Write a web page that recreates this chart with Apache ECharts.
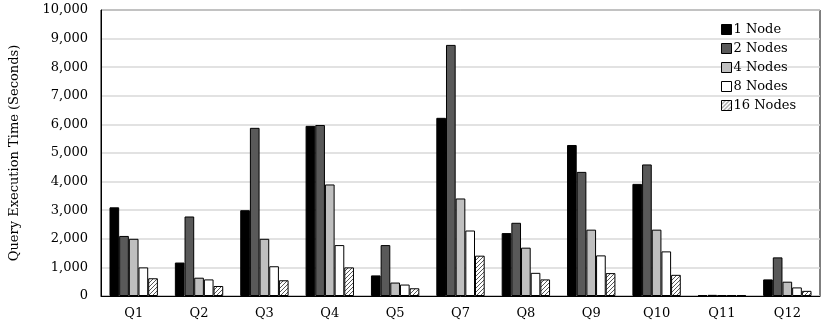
<!DOCTYPE html>
<html><head><meta charset="utf-8">
<script src="https://cdn.jsdelivr.net/npm/echarts@6/dist/echarts.min.js"></script>
<style>html,body{margin:0;padding:0;background:#fff}#c{width:831px;height:326px}</style>
</head><body><div id="c"></div>
<script>
var categories = ['Q1','Q2','Q3','Q4','Q5','Q7','Q8','Q9','Q10','Q11','Q12'];
var seriesNames = ['1 Node','2 Nodes','4 Nodes','8 Nodes','16 Nodes'];
var node1  = [3100, 1170, 3000, 5950, 720, 6230, 2200, 5280, 3920, 30, 580];
var node2  = [2100, 2780, 5880, 5980, 1780, 8780, 2560, 4340, 4600, 40, 1350];
var node4  = [2000, 640, 2000, 3900, 470, 3410, 1690, 2320, 2320, 30, 500];
var node8  = [1000, 580, 1040, 1780, 400, 2290, 810, 1420, 1560, 30, 300];
var node16 = [620, 350, 550, 1000, 270, 1410, 580, 800, 740, 30, 180];
var yTicks = [0,1000,2000,3000,4000,5000,6000,7000,8000,9000,10000];

function hatch(){
  var s = 4;
  var c = document.createElement('canvas'); c.width = s; c.height = s;
  var g = c.getContext('2d');
  g.fillStyle = '#fff'; g.fillRect(0,0,s,s);
  g.strokeStyle = '#444'; g.lineWidth = 0.9;
  g.beginPath(); g.moveTo(0,s); g.lineTo(s,0); g.moveTo(-1,1); g.lineTo(1,-1); g.moveTo(s-1,s+1); g.lineTo(s+1,s-1); g.stroke();
  return c;
}
var fills = ['#000000','#595959','#bfbfbf','#ffffff',{image: hatch(), repeat: 'repeat'}];
var data = [node1,node2,node4,node8,node16];
var font = '"DejaVu Serif", "Liberation Serif", serif';

var chart = echarts.init(document.getElementById('c'));
chart.setOption({
  animation: false,
  textStyle: {fontFamily: font},
  grid: {left: 99, right: 11, top: 10, bottom: 30, show: true, borderColor: '#000', borderWidth: 1},
  legend: {
    orient: 'vertical', left: 716, top: 18, itemWidth: 10, itemHeight: 10, itemGap: 6, icon: 'rect',
    textStyle: {fontFamily: font, fontSize: 13, color: '#000', padding: [0,0,0,-3]},
    data: seriesNames.map(function(n,i){return {name:n, itemStyle:{color:fills[i], borderColor:'#000', borderWidth:1}};})
  },
  xAxis: {
    type: 'category', data: categories,
    axisLine: {lineStyle: {color: '#000', width: 1}},
    axisTick: {show: false},
    axisLabel: {color: '#000', fontSize: 13, fontFamily: font, margin: 11}
  },
  yAxis: {
    type: 'value', min: 0, max: 10000, interval: 1000,
    name: 'Query Execution Time (Seconds)', nameLocation: 'middle', nameGap: 80, nameRotate: 90,
    nameTextStyle: {color: '#000', fontSize: 13, fontFamily: font},
    axisLine: {show: true, lineStyle: {color: '#000'}},
    axisTick: {show: false},
    axisLabel: {color: '#000', fontSize: 13, fontFamily: font, margin: 13,
      formatter: function(v){ return yTicks.indexOf(v) >= 0 ? v.toLocaleString('en-US') : ''; }},
    splitLine: {lineStyle: {color: '#d9d9d9', width: 1.5}}
  },
  series: seriesNames.map(function(n,i){
    return {name: n, type: 'bar', data: data[i], barGap: '0%', barCategoryGap: '26%',
      itemStyle: {color: fills[i], borderColor: '#000', borderWidth: 1}};
  })
});
</script></body></html>
